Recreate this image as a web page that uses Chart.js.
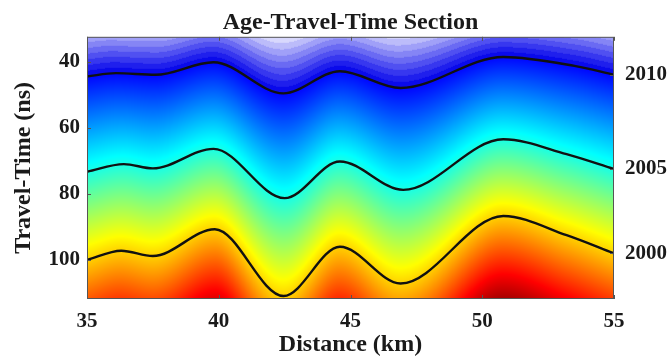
<!DOCTYPE html>
<html>
<head>
<meta charset="utf-8">
<title>Age-Travel-Time Section</title>
<script src="https://cdn.jsdelivr.net/npm/chart.js@4.4.1/dist/chart.umd.min.js"></script>
<style>
  html, body { margin: 0; padding: 0; background: #fff; }
</style>
</head>
<body>
<canvas id="secao" width="670" height="363"></canvas>
<script>
// contours: distance (km) -> travel time (ns)
const dist2010 = [35, 36.1, 37.6, 39.8, 42.45, 44.6, 46.9, 50.8, 53.5, 55];
const time2010 = [44.5, 43.5, 44.0, 40.2, 49.6, 42.9, 48.0, 38.6, 41.3, 44.0];

const dist2005 = [35, 36.4, 37.5, 39.8, 42.5, 44.6, 47.0, 50.8, 53.2, 55];
const time2005 = [73.3, 71.0, 72.3, 66.4, 81.3, 70.2, 78.8, 63.5, 68.0, 72.5];

const dist2000 = [35, 36.3, 37.5, 39.85, 42.46, 44.6, 46.9, 50.8, 53.2, 55];
const time2000 = [100.0, 97.2, 98.8, 90.7, 110.9, 96.0, 107.1, 86.7, 92.5, 98.0];

const contourYears = ['2010', '2005', '2000'];
const distTicks = [35, 40, 45, 50, 55];
const timeTicks = [40, 60, 80, 100];
const timeRange = [32.5, 111.8];

const fonte = { family: '"Liberation Serif", "Times New Roman", serif', size: 21, weight: 'bold' };
const fonteTitulo = { family: '"Liberation Serif", "Times New Roman", serif', size: 24, weight: 'bold' };
const corTexto = '#1a1a1a';

function pares(xs, ys) {
    return xs.map((x, i) => ({ x: x, y: ys[i] }));
}

// jet colormap
function jet(v) {
    const c = t => Math.max(0, Math.min(1, t));
    return [c(1.5 - Math.abs(4 * v - 3)), c(1.5 - Math.abs(4 * v - 2)), c(1.5 - Math.abs(4 * v - 1))];
}

function corIdade(ano, topo) {
    if (ano > topo) {
        // banded blue -> white above the youngest contour
        const banda = Math.floor((ano - topo) / 0.3);
        const f = Math.min(1, Math.pow(banda * 0.3 / 2.7, 1.1));
        return [10 + f * 235, 10 + f * 235, 235 + f * 20];
    }
    const rgb = jet(0.13 + 0.054 * (topo - ano));
    return [rgb[0] * 255, rgb[1] * 255, rgb[2] * 255];
}

// pixel y of a drawn contour for each column of the chart area
function colunasContorno(chart, index, area, w) {
    const meta = chart.getDatasetMeta(index);
    meta.dataset.updateControlPoints(area, 'x');
    const pts = meta.data;
    const col = new Array(w).fill(NaN);
    for (let s = 0; s < pts.length - 1; s++) {
        const a = pts[s], b = pts[s + 1];
        for (let k = 0; k <= 400; k++) {
            const t = k / 400, u = 1 - t;
            const bx = u * u * u * a.x + 3 * u * u * t * a.cp2x + 3 * u * t * t * b.cp1x + t * t * t * b.x;
            const by = u * u * u * a.y + 3 * u * u * t * a.cp2y + 3 * u * t * t * b.cp1y + t * t * t * b.y;
            const i = Math.floor(bx - area.left);
            if (i >= 0 && i < w) col[i] = by;
        }
    }
    for (let i = 1; i < w; i++) if (isNaN(col[i])) col[i] = col[i - 1];
    for (let i = w - 2; i >= 0; i--) if (isNaN(col[i])) col[i] = col[i + 1];
    return col;
}

const campoPlugin = {
    id: 'campoIdade',
    beforeDatasetsDraw(chart) {
        const area = chart.chartArea;
        const w = Math.round(area.right - area.left);
        const h = Math.round(area.bottom - area.top);
        const anos = contourYears.map(Number);
        const cols = anos.map((a, i) => colunasContorno(chart, i, area, w));
        const off = document.createElement('canvas');
        off.width = w; off.height = h;
        const octx = off.getContext('2d');
        const img = octx.createImageData(w, h);
        for (let i = 0; i < w; i++) {
            const c1 = cols[0][i], c2 = cols[1][i], c3 = cols[2][i];
            for (let j = 0; j < h; j++) {
                const py = area.top + j + 0.5;
                let ano;
                if (py <= c1) ano = anos[0] + (anos[0] - anos[1]) * (c1 - py) / (c2 - c1);
                else if (py <= c2) ano = anos[0] - (anos[0] - anos[1]) * (py - c1) / (c2 - c1);
                else if (py <= c3) ano = anos[1] - (anos[1] - anos[2]) * (py - c2) / (c3 - c2);
                else ano = anos[2] - (anos[1] - anos[2]) * (py - c3) / (c3 - c2);
                const rgb = corIdade(ano, anos[0]);
                const k = (j * w + i) * 4;
                img.data[k] = rgb[0];
                img.data[k + 1] = rgb[1];
                img.data[k + 2] = rgb[2];
                img.data[k + 3] = 255;
            }
        }
        octx.putImageData(img, 0, 0);
        chart.ctx.drawImage(off, area.left, area.top);
    },
    afterDatasetsDraw(chart) {
        // frame and small inward ticks
        const ctx = chart.ctx;
        const area = chart.chartArea;
        ctx.save();
        ctx.strokeStyle = '#555';
        ctx.lineWidth = 1;
        ctx.beginPath();
        chart.scales.x.ticks.forEach(t => {
            const px = Math.round(chart.scales.x.getPixelForValue(t.value)) + 0.5;
            ctx.moveTo(px, area.top); ctx.lineTo(px, area.top + 4);
            ctx.moveTo(px, area.bottom); ctx.lineTo(px, area.bottom - 4);
        });
        chart.scales.y.ticks.forEach(t => {
            const py = Math.round(chart.scales.y.getPixelForValue(t.value)) + 0.5;
            ctx.moveTo(area.left, py); ctx.lineTo(area.left + 4, py);
        });
        chart.scales.yr.ticks.forEach(t => {
            const py = Math.round(chart.scales.yr.getPixelForValue(t.value)) + 0.5;
            ctx.moveTo(area.right, py); ctx.lineTo(area.right - 4, py);
        });
        ctx.stroke();
        ctx.strokeRect(area.left + 0.5, area.top + 0.5, area.right - area.left - 1, area.bottom - area.top - 1);
        ctx.restore();
    }
};

const estiloLinha = {
    showLine: true,
    borderColor: '#111',
    borderWidth: 2.4,
    pointRadius: 0,
    cubicInterpolationMode: 'monotone',
    fill: false
};

const fimContornos = [time2010[time2010.length - 1], time2005[time2005.length - 1], time2000[time2000.length - 1]];

const ctx = document.getElementById('secao').getContext('2d');
new Chart(ctx, {
    type: 'scatter',
    data: {
        datasets: [
            Object.assign({ label: contourYears[0], data: pares(dist2010, time2010) }, estiloLinha),
            Object.assign({ label: contourYears[1], data: pares(dist2005, time2005) }, estiloLinha),
            Object.assign({ label: contourYears[2], data: pares(dist2000, time2000) }, estiloLinha)
        ]
    },
    options: {
        responsive: false,
        devicePixelRatio: 1,
        animation: false,
        layout: { padding: 0 },
        plugins: {
            legend: { display: false },
            tooltip: { enabled: false },
            title: {
                display: true,
                text: 'Age-Travel-Time Section',
                fullSize: false,
                color: corTexto,
                font: fonteTitulo,
                padding: { top: 8, bottom: 0 }
            }
        },
        scales: {
            x: {
                type: 'linear',
                min: distTicks[0],
                max: distTicks[distTicks.length - 1],
                afterBuildTicks: s => { s.ticks = distTicks.map(v => ({ value: v })); },
                afterFit: s => { s.height = 64; },
                grid: { display: false, drawTicks: false },
                border: { display: false },
                ticks: { color: corTexto, font: fonte, padding: 10, maxRotation: 0 },
                title: { display: true, text: 'Distance (km)', color: corTexto, font: fonteTitulo, padding: { top: 0, bottom: 4 } }
            },
            y: {
                type: 'linear',
                position: 'left',
                reverse: true,
                min: timeRange[0],
                max: timeRange[1],
                afterBuildTicks: s => { s.ticks = timeTicks.map(v => ({ value: v })); },
                afterFit: s => { s.width = 87; },
                grid: { display: false, drawTicks: false },
                border: { display: false },
                ticks: { color: corTexto, font: fonte, padding: 7 },
                title: { display: true, text: 'Travel-Time (ns)', color: corTexto, font: fonteTitulo, padding: { top: 9, bottom: 0 } }
            },
            yr: {
                type: 'linear',
                position: 'right',
                reverse: true,
                min: timeRange[0],
                max: timeRange[1],
                afterBuildTicks: s => { s.ticks = fimContornos.map(v => ({ value: v })); },
                afterFit: s => { s.width = 56; },
                grid: { display: false, drawTicks: false },
                border: { display: false },
                ticks: { color: corTexto, font: fonte, padding: 11, callback: (v, i) => contourYears[i] }
            }
        }
    },
    plugins: [campoPlugin]
});
</script>
</body>
</html>
